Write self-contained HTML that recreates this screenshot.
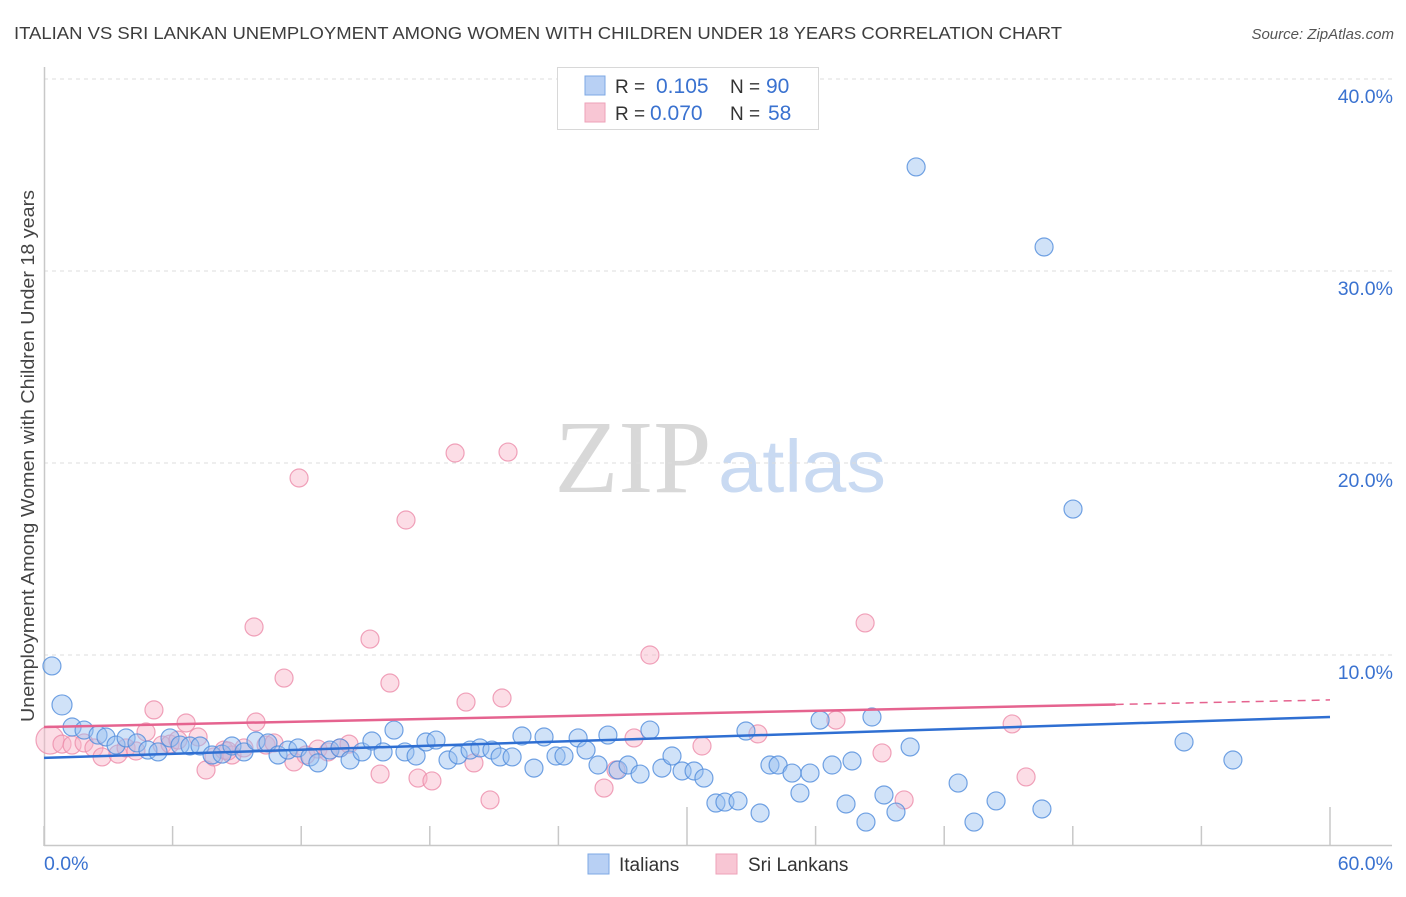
<!DOCTYPE html>
<html><head><meta charset="utf-8">
<style>
body{margin:0;background:#fff;font-family:"Liberation Sans",sans-serif;}
svg text{font-family:"Liberation Sans",sans-serif;}
</style></head>
<body>
<svg id="chart" width="1406" height="892" xmlns="http://www.w3.org/2000/svg">
<text x="14" y="39" font-size="17.5" fill="#3d3d3d" textLength="1048" lengthAdjust="spacingAndGlyphs">ITALIAN VS SRI LANKAN UNEMPLOYMENT AMONG WOMEN WITH CHILDREN UNDER 18 YEARS CORRELATION CHART</text>
<text x="1394" y="39" font-size="15" fill="#555" font-style="italic" text-anchor="end">Source: ZipAtlas.com</text>
<text x="0" y="0" font-size="18" fill="#444" text-anchor="middle" textLength="532" lengthAdjust="spacingAndGlyphs" transform="translate(34,456) rotate(-90)">Unemployment Among Women with Children Under 18 years</text>
<g id="watermark">
<text x="633" y="492" font-size="104" fill="#d8d8d8" text-anchor="middle" textLength="157" lengthAdjust="spacingAndGlyphs" style="font-family:'Liberation Serif',serif">ZIP</text>
<text x="802" y="492" font-size="74" fill="#c9daf2" text-anchor="middle" textLength="168" lengthAdjust="spacingAndGlyphs">atlas</text>
</g>
<g id="grid"></g><g id="axes"></g><g id="pts"></g><g id="trends"></g>
<g>
<rect x="557.5" y="67.5" width="261" height="62" fill="#fff" stroke="#d8d8d8"/>
<rect x="585" y="76" width="20" height="19" fill="#b8d0f4" stroke="#7ea8e4"/>
<rect x="585" y="103" width="20" height="19" fill="#f8c6d4" stroke="#eea2b8"/>
<text x="615" y="93" font-size="19" fill="#333">R =</text><text x="656" y="93" font-size="21" fill="#3a72d0">0.105</text>
<text x="730" y="93" font-size="19" fill="#333">N =</text><text x="766" y="93" font-size="21" fill="#3a72d0">90</text>
<text x="615" y="120" font-size="19" fill="#333">R =</text><text x="650" y="120" font-size="21" fill="#3a72d0">0.070</text>
<text x="730" y="120" font-size="19" fill="#333">N =</text><text x="768" y="120" font-size="21" fill="#3a72d0">58</text>
</g>
<g>
<rect x="588" y="854" width="21" height="20" fill="#b8d0f4" stroke="#7ea8e4"/>
<text x="619" y="871" font-size="19" fill="#333">Italians</text>
<rect x="716" y="854" width="21" height="20" fill="#f8c6d4" stroke="#eea2b8"/>
<text x="748" y="871" font-size="19" fill="#333">Sri Lankans</text>
</g>
</svg>
<script>
const yTicks=[10,20,30,40];
const yTickLabels=["10.0%","20.0%","30.0%","40.0%"];
const xTickVals=[0,6,12,18,24,30,36,42,48,54,60];
const italiansX=[0.37,0.84,1.31,1.87,2.52,2.89,3.36,3.83,4.34,4.85,5.32,5.88,6.35,6.81,7.28,7.84,8.31,8.77,9.33,9.89,10.45,10.92,11.38,11.85,12.41,12.78,13.34,13.81,14.28,14.84,15.30,15.82,16.33,16.84,17.36,17.82,18.29,18.85,19.32,19.88,20.34,20.90,21.28,21.84,22.30,22.86,23.33,23.89,24.26,24.92,25.29,25.85,26.31,26.78,27.25,27.81,28.27,28.83,29.30,29.77,30.33,30.79,31.35,31.77,32.38,32.75,33.41,33.87,34.25,34.90,35.27,35.74,36.21,36.77,37.42,37.70,38.35,38.63,39.19,39.75,40.41,42.65,43.39,44.42,46.56,40.69,46.66,48.01,53.19,55.47];
const italiansY=[9.43,7.40,6.25,6.09,5.83,5.73,5.31,5.68,5.42,5.05,4.95,5.68,5.31,5.26,5.26,4.79,4.84,5.26,4.95,5.52,5.42,4.79,5.05,5.16,4.69,4.38,5.05,5.16,4.53,4.95,5.52,4.95,6.09,4.95,4.74,5.47,5.57,4.53,4.79,5.05,5.16,5.05,4.69,4.69,5.78,4.11,5.73,4.74,4.74,5.68,5.05,4.27,5.83,4.01,4.27,3.80,6.09,4.11,4.74,3.96,3.96,3.59,2.29,2.34,2.40,6.04,1.77,4.27,4.27,3.85,2.81,3.85,6.61,4.27,2.24,4.48,1.30,6.77,2.71,1.82,5.21,3.33,1.30,2.40,1.98,35.42,31.25,17.60,5.47,4.53];
const sriX=[0.28,0.84,1.31,1.87,2.33,2.71,3.45,3.83,4.29,4.76,5.13,5.51,5.88,6.25,6.63,7.19,7.56,7.93,8.40,8.77,9.33,9.89,9.80,10.36,10.73,11.20,11.66,11.90,12.22,12.78,13.25,13.81,14.23,15.21,15.68,16.14,16.89,17.45,18.10,19.18,19.69,20.06,20.81,21.37,21.65,26.13,26.69,27.53,28.27,30.70,33.31,36.95,38.31,39.10,40.13,45.17,45.82,8.58];
const sriY=[5.57,5.36,5.31,5.42,5.16,4.69,4.84,5.16,5.00,5.99,7.14,5.31,5.36,5.57,6.46,5.73,4.01,4.69,5.05,4.79,5.16,6.51,11.46,5.31,5.42,8.80,4.43,19.22,4.79,5.10,4.95,5.16,5.36,10.83,3.80,8.54,17.03,3.59,3.44,20.52,7.55,4.38,2.45,7.76,20.57,3.07,4.01,5.68,10.00,5.26,5.89,6.61,11.67,4.90,2.45,6.41,3.65,5.00];
const trendItalians=[4.64,6.77];
const trendSri=[6.25,7.66];
const sriSolidEnd=50;

const X=v=>44+v*(1286/60);
const Y=v=>847-v*19.2;
const NS="http://www.w3.org/2000/svg";
function mk(tag,attrs,parent){const e=document.createElementNS(NS,tag);for(const k in attrs)e.setAttribute(k,attrs[k]);document.getElementById(parent).appendChild(e);return e;}

yTicks.forEach((t,i)=>{
  const l=mk('line',{x1:44,x2:1392,y1:Y(t),y2:Y(t),stroke:'#dcdcdc','stroke-dasharray':'4,4'},'grid');
  
  
  const tx=mk('text',{x:1393,y:Y(t)+24,'font-size':19.5,fill:'#3a72d0','text-anchor':'end'},'grid');
  tx.textContent=yTickLabels[i];
  
  
});
const ax=mk('line',{x1:44,x2:1392,y1:845.5,y2:845.5,stroke:'#c8c8c8','stroke-width':1.5},'axes');


const ay=mk('line',{x1:44.5,x2:44.5,y1:67,y2:846,stroke:'#c8c8c8','stroke-width':1.5},'axes');


xTickVals.forEach((t,i)=>{
  const long=(i===5||i===10);
  const l=mk('line',{x1:X(t),x2:X(t),y1:long?807:826,y2:846,stroke:'#c8c8c8','stroke-width':1.5},'axes');
  
  
});
const x0=mk('text',{x:44,y:870,'font-size':19.5,fill:'#3a72d0'},'axes');x0.textContent='0.0%';


const x1=mk('text',{x:1393,y:870,'font-size':19.5,fill:'#3a72d0','text-anchor':'end'},'axes');x1.textContent='60.0%';



sriX.forEach((v,i)=>{
  const c=mk('circle',{cx:X(v),cy:Y(sriY[i]),r:i===0?14:9,fill:'rgba(248,180,200,0.45)',stroke:'rgba(236,140,170,0.8)','stroke-width':1.2},'pts');
  
  
});
italiansX.forEach((v,i)=>{
  const c=mk('circle',{cx:X(v),cy:Y(italiansY[i]),r:i===1?10:9,fill:'rgba(150,190,240,0.45)',stroke:'rgba(80,140,220,0.8)','stroke-width':1.2},'pts');
  
  
});
const ti=mk('line',{x1:X(0),y1:Y(trendItalians[0]),x2:X(60),y2:Y(trendItalians[1]),stroke:'#2f6fd2','stroke-width':2.5},'trends');


const sm=trendSri[0]+(trendSri[1]-trendSri[0])*sriSolidEnd/60;
const ts=mk('line',{x1:X(0),y1:Y(trendSri[0]),x2:X(sriSolidEnd),y2:Y(sm),stroke:'#e5638f','stroke-width':2.5},'trends');


const td=mk('line',{x1:X(sriSolidEnd),y1:Y(sm),x2:X(60),y2:Y(trendSri[1]),stroke:'#e5638f','stroke-width':1.5,'stroke-dasharray':'8,6'},'trends');


</script>
</body></html>
